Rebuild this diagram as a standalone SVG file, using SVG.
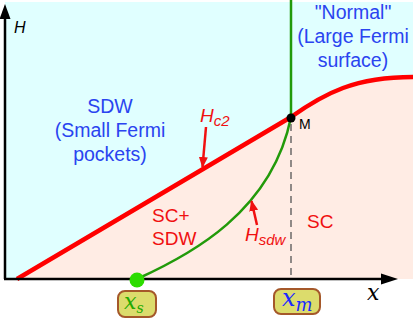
<svg xmlns="http://www.w3.org/2000/svg" width="415" height="319" viewBox="0 0 415 319">
<style>
.sans{font-family:"Liberation Sans",Arial,sans-serif}
.blue{fill:#2a44f0;font-size:19.5px;text-anchor:middle}
.red{fill:#f01010;font-size:19px}
.it{font-style:italic}
.math{font-family:"DejaVu Serif",serif;font-style:italic}
.box{fill:#dcdc6c;stroke:#a5582a;stroke-width:2}
</style>
<defs>
<marker id="ra" markerUnits="userSpaceOnUse" markerWidth="12" markerHeight="10" refX="10" refY="4.5" orient="auto">
<path d="M0,0 L11,4.5 L0,9 Z" fill="#f01010"/>
</marker>
</defs>
<g id="regions">
<rect x="5" y="2" width="408" height="277" fill="#e0ffff"/>
<path d="M17,279 L291,117 C325,93 355,77 413,77 L413,279 Z" fill="#ffece4"/>
</g>
<g id="connectors">
<line x1="291" y1="124" x2="291" y2="279" stroke="#555" stroke-width="1.3" stroke-dasharray="7,5"/>
<path d="M17,279 L291,117 C325,93 355,77 413,77" fill="none" stroke="#f00" stroke-width="4.5"/>
<line x1="291" y1="0" x2="291" y2="117" stroke="#229a0a" stroke-width="2.5"/>
<path d="M137,279 C190,255 272,212 291,117" fill="none" stroke="#229a0a" stroke-width="2.5"/>
<line x1="206" y1="127" x2="202.5" y2="167" stroke="#f01010" stroke-width="2.5" marker-end="url(#ra)"/>
<line x1="257" y1="225" x2="251.5" y2="201" stroke="#f01010" stroke-width="2.5" marker-end="url(#ra)"/>
</g>
<g id="axes">
<line x1="5" y1="279" x2="5" y2="18" stroke="#000" stroke-width="2.5"/>
<path d="M5,4 L10.5,19 L-0.5,19 Z" fill="#000"/>
<line x1="4" y1="279" x2="382" y2="279" stroke="#000" stroke-width="2.5"/>
<path d="M398,279 L381,273.5 L381,284.5 Z" fill="#000"/>
<text x="14" y="33" class="sans it" font-size="16">H</text>
<text x="367" y="300" class="math" font-size="22">x</text>
</g>
<g id="SDW">
<text class="sans blue"><tspan x="110" y="113">SDW</tspan><tspan x="110" y="137">(Small Fermi</tspan><tspan x="110" y="161">pockets)</tspan></text>
</g>
<g id="Normal">
<text class="sans blue"><tspan x="353" y="19">"Normal"</tspan><tspan x="353" y="43">(Large Fermi</tspan><tspan x="353" y="67">surface)</tspan></text>
</g>
<g id="SCSDW">
<text class="sans red"><tspan x="152" y="222">SC+</tspan><tspan x="152" y="245">SDW</tspan></text>
</g>
<g id="SC">
<text x="307" y="228" class="sans red">SC</text>
</g>
<g id="Hc2">
<text x="200" y="122" class="sans red it" font-size="21">H<tspan font-size="15" dy="4">c2</tspan></text>
</g>
<g id="Hsdw">
<text x="245" y="241" class="sans red it" font-size="20">H<tspan font-size="15" dy="4">sdw</tspan></text>
</g>
<g id="M">
<circle cx="291" cy="118" r="4.5" fill="#000"/>
<text x="299" y="129" class="sans" font-size="14" fill="#000">M</text>
</g>
<g id="xs">
<circle cx="137" cy="280" r="7.5" fill="#2ddc00"/>
<rect x="118" y="291" width="38" height="26" rx="7" class="box"/>
<text x="124" y="309" class="math" font-size="22" fill="#22aa00">x<tspan font-size="14" dy="4">s</tspan></text>
</g>
<g id="xm">
<rect x="274" y="289" width="46" height="25" rx="7" class="box"/>
<text x="282" y="306" class="math" font-size="24" fill="#1a2aff">x<tspan font-size="18" dy="5">m</tspan></text>
</g>
</svg>
